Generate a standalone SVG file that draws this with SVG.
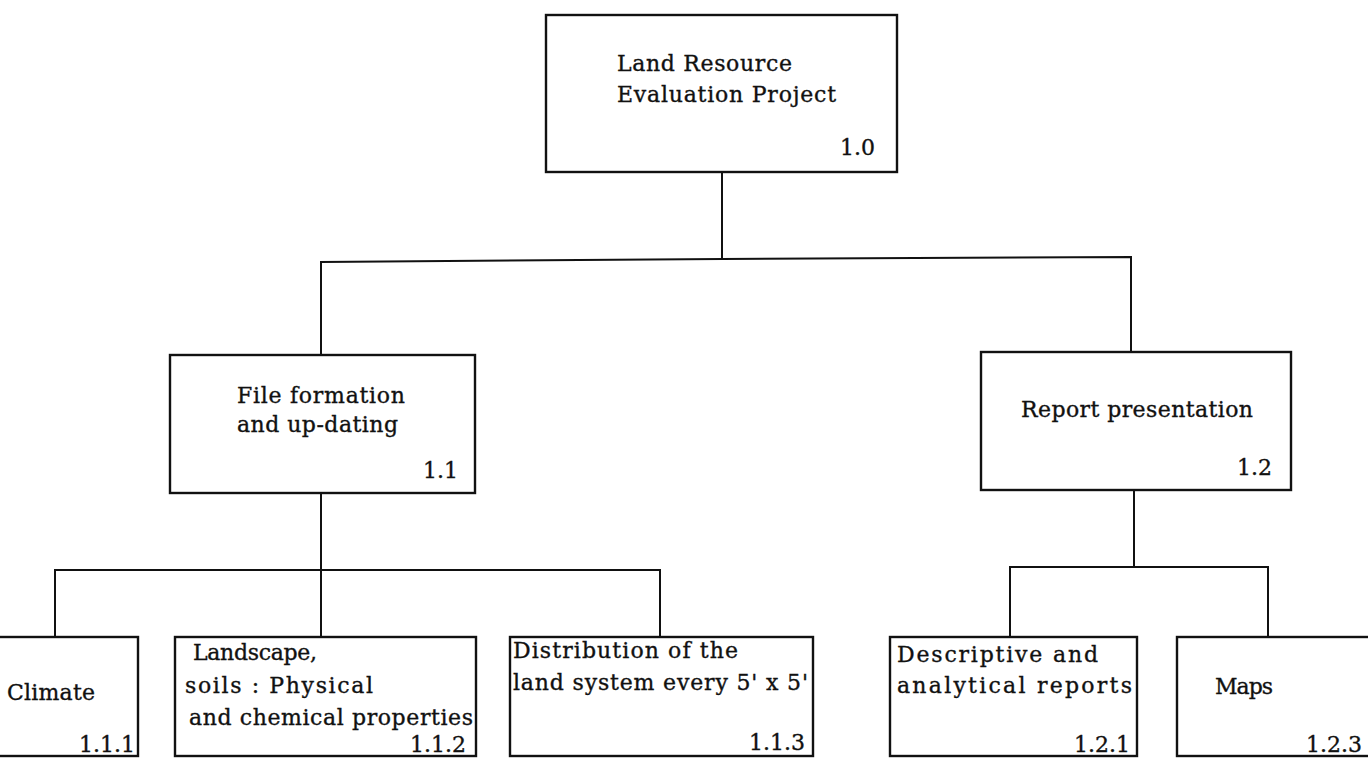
<svg xmlns="http://www.w3.org/2000/svg" width="1368" height="758" viewBox="0 0 1368 758">
<style>
.box{fill:#fff;stroke:#111;stroke-width:2.4}
.con{fill:none;stroke:#111;stroke-width:2}
text{font-family:"DejaVu Serif","Liberation Serif",serif;font-size:22px;fill:#111;stroke:#111;stroke-width:0.35}
.num{text-anchor:end}
</style>
<rect width="1368" height="758" fill="#fff"/>
<g id="connectors">
<path class="con" d="M722,172 V259"/>
<path class="con" d="M321,355 V262 L722,259 L1131,257 V352"/>
<path class="con" d="M321,493 V637"/>
<path class="con" d="M55,637 V570 H660 V637"/>
<path class="con" d="M1134,490 V567"/>
<path class="con" d="M1010,637 V567 H1268 V637"/>
</g>
<g id="n1_0">
<rect class="box" x="546" y="15" width="351" height="157"/>
<text x="617" y="71" textLength="175" lengthAdjust="spacing">Land Resource</text>
<text x="617" y="102" textLength="219" lengthAdjust="spacing">Evaluation Project</text>
<text class="num" x="875" y="155">1.0</text>
</g>
<g id="n1_1">
<rect class="box" x="170" y="355" width="305" height="138"/>
<text x="237" y="403" textLength="168" lengthAdjust="spacing">File formation</text>
<text x="237" y="432" textLength="161" lengthAdjust="spacing">and up-dating</text>
<text class="num" x="458" y="478">1.1</text>
</g>
<g id="n1_2">
<rect class="box" x="981" y="352" width="310" height="138"/>
<text x="1021" y="417" textLength="232" lengthAdjust="spacing">Report presentation</text>
<text class="num" x="1272" y="475">1.2</text>
</g>
<g id="n1_1_1">
<rect class="box" x="-5" y="637" width="143" height="119"/>
<text x="7" y="700" textLength="88" lengthAdjust="spacing">Climate</text>
<text class="num" x="135" y="752">1.1.1</text>
</g>
<g id="n1_1_2">
<rect class="box" x="175" y="637" width="301" height="119"/>
<text x="193" y="660" textLength="124" lengthAdjust="spacing">Landscape,</text>
<text x="185" y="693" textLength="188" lengthAdjust="spacing">soils : Physical</text>
<text x="189" y="725" textLength="284" lengthAdjust="spacing">and chemical properties</text>
<text class="num" x="466" y="752">1.1.2</text>
</g>
<g id="n1_1_3">
<rect class="box" x="510" y="637" width="303" height="119"/>
<text x="513" y="658" textLength="225" lengthAdjust="spacing">Distribution of the</text>
<text x="513" y="690" textLength="295" lengthAdjust="spacing">land system every 5' x 5'</text>
<text class="num" x="805" y="750">1.1.3</text>
</g>
<g id="n1_2_1">
<rect class="box" x="890" y="637" width="247" height="119"/>
<text x="897" y="662" textLength="201" lengthAdjust="spacing">Descriptive and</text>
<text x="897" y="693" textLength="235" lengthAdjust="spacing">analytical reports</text>
<text class="num" x="1130" y="752">1.2.1</text>
</g>
<g id="n1_2_3">
<rect class="box" x="1177" y="637" width="200" height="119"/>
<text x="1215" y="694" textLength="58" lengthAdjust="spacing">Maps</text>
<text class="num" x="1362" y="752">1.2.3</text>
</g>
</svg>
